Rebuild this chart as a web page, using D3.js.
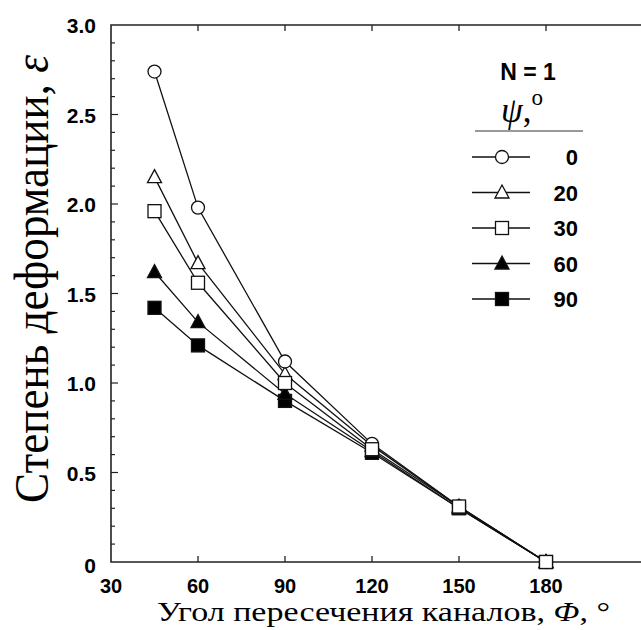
<!DOCTYPE html>
<html>
<head>
<meta charset="utf-8">
<script src="https://cdn.jsdelivr.net/npm/d3@7"></script>
<style>
  body { margin: 0; background: #fff; }
  svg { display: block; }
</style>
</head>
<body>
<script>

var angles = [45, 60, 90, 120, 150, 180]
var psiLabels = ['0', '20', '30', '60', '90']
var psi0 = [2.74, 1.98, 1.12, 0.66, 0.31, 0]
var psi20 = [2.15, 1.67, 1.05, 0.65, 0.31, 0]
var psi30 = [1.96, 1.56, 1.00, 0.63, 0.31, 0]
var psi60 = [1.62, 1.34, 0.94, 0.62, 0.30, 0]
var psi90 = [1.42, 1.21, 0.90, 0.61, 0.30, 0]
var xTicks = [30, 60, 90, 120, 150, 180]
var yTicks = [0, 0.5, 1.0, 1.5, 2.0, 2.5, 3.0]
var yTickLabels = ['0', '0.5', '1.0', '1.5', '2.0', '2.5', '3.0']

var series = [
  {label: psiLabels[0], values: psi0, shape: 'circle', fill: '#fff'},
  {label: psiLabels[1], values: psi20, shape: 'triangle', fill: '#fff'},
  {label: psiLabels[2], values: psi30, shape: 'square', fill: '#fff'},
  {label: psiLabels[3], values: psi60, shape: 'triangle', fill: '#000'},
  {label: psiLabels[4], values: psi90, shape: 'square', fill: '#000'}
]

var svg = d3.select('body').append('svg')
  .attr('width', 641)
  .attr('height', 630)

var x = d3.scaleLinear().domain([30, 180]).range([111, 546])
var y = d3.scaleLinear().domain([0, 3]).range([562, 25])

var right = 660
var sans = 'Liberation Sans, Arial, sans-serif'
var serif = 'Liberation Serif, Times New Roman, serif'

// frame
svg.append('path')
  .attr('d', 'M' + right + ',' + y(3) + 'H' + x(30) + 'V' + y(0) + 'H' + right)
  .attr('fill', 'none')
  .attr('stroke', '#222')
  .attr('stroke-width', 1.6)

// x ticks, bottom and top, pointing inward
var gx = svg.append('g')
gx.selectAll('.tb').data(xTicks.slice(1)).enter().append('line')
  .attr('x1', function(d) { return x(d) }).attr('x2', function(d) { return x(d) })
  .attr('y1', y(0)).attr('y2', y(0) - 6)
  .attr('stroke', '#222').attr('stroke-width', 1.3)
gx.selectAll('.tt').data(xTicks.slice(1)).enter().append('line')
  .attr('x1', function(d) { return x(d) }).attr('x2', function(d) { return x(d) })
  .attr('y1', y(3)).attr('y2', y(3) + 6)
  .attr('stroke', '#222').attr('stroke-width', 1.3)
gx.selectAll('text').data(xTicks).enter().append('text')
  .attr('x', function(d) { return x(d) })
  .attr('y', 593)
  .attr('text-anchor', 'middle')
  .style('font-family', sans)
  .style('font-weight', 'bold')
  .style('font-size', '20px')
  .text(function(d) { return d })

// y ticks: major every 0.5, minor every 0.1
var minor = d3.range(1, 30).map(function(i) { return i / 10 })
var gy = svg.append('g')
gy.selectAll('line').data(minor).enter().append('line')
  .attr('x1', x(30)).attr('x2', function(d) {
    return x(30) + (Math.abs(d * 2 - Math.round(d * 2)) < 1e-6 ? 7 : 4)
  })
  .attr('y1', function(d) { return y(d) }).attr('y2', function(d) { return y(d) })
  .attr('stroke', '#222').attr('stroke-width', 1.2)
gy.selectAll('text').data(yTicks).enter().append('text')
  .attr('x', 96)
  .attr('y', function(d, i) { return y(d) + (i == 0 ? 11 : 8) })
  .attr('text-anchor', 'end')
  .style('font-family', sans)
  .style('font-weight', 'bold')
  .style('font-size', '21px')
  .text(function(d, i) { return yTickLabels[i] })

// markers
function marker(sel, shape, fill) {
  if (shape == 'circle') {
    sel.append('circle').attr('r', 6.5)
  } else if (shape == 'square') {
    sel.append('rect').attr('x', -6.5).attr('y', -6.5).attr('width', 13).attr('height', 13)
  } else {
    sel.append('path').attr('d', 'M0,-7.5L7,5.5L-7,5.5Z')
  }
  sel.selectAll('*').attr('fill', fill).attr('stroke', '#111').attr('stroke-width', 1.3)
}

var line = d3.line()
  .x(function(d, i) { return x(angles[i]) })
  .y(function(d) { return y(d) })

var order = [4, 3, 1, 0, 2]
order.forEach(function(k) {
  var s = series[k]
  svg.append('path')
    .attr('d', line(s.values))
    .attr('fill', 'none')
    .attr('stroke', '#111')
    .attr('stroke-width', 1.3)
})
order.forEach(function(k) {
  var s = series[k]
  s.values.forEach(function(v, i) {
    var g = svg.append('g').attr('transform', 'translate(' + x(angles[i]) + ',' + y(v) + ')')
    marker(g, s.shape, s.fill)
  })
})

// legend
var lg = svg.append('g')
lg.append('text')
  .attr('x', 528).attr('y', 80)
  .attr('text-anchor', 'middle')
  .style('font-family', sans)
  .style('font-weight', 'bold')
  .style('font-size', '23px')
  .text('N = 1')
var psiT = lg.append('text')
  .attr('x', 522).attr('y', 122)
  .attr('text-anchor', 'middle')
  .style('font-family', serif)
  .style('font-size', '35px')
psiT.append('tspan').style('font-style', 'italic').text('ψ')
psiT.append('tspan').text(',')
psiT.append('tspan').attr('dy', -17).style('font-size', '23px').text('o')
lg.append('line')
  .attr('x1', 475).attr('x2', 583).attr('y1', 131).attr('y2', 131)
  .attr('stroke', '#777').attr('stroke-width', 1.5)

series.forEach(function(s, i) {
  var ly = 157 + i * 35.5
  lg.append('line')
    .attr('x1', 472).attr('x2', 530).attr('y1', ly).attr('y2', ly)
    .attr('stroke', '#111').attr('stroke-width', 1.3)
  var g = lg.append('g').attr('transform', 'translate(502,' + ly + ')')
  marker(g, s.shape, s.fill)
  lg.append('text')
    .attr('x', 578).attr('y', ly + 8)
    .attr('text-anchor', 'end')
    .style('font-family', sans)
    .style('font-weight', 'bold')
    .style('font-size', '22px')
    .text(s.label)
})

// axis titles
var xt = svg.append('text')
  .attr('x', 157).attr('y', 621)
  .attr('textLength', 453)
  .attr('lengthAdjust', 'spacingAndGlyphs')
  .style('font-family', serif)
  .style('font-size', '27px')
xt.append('tspan').text('Угол пересечения каналов, ')
xt.append('tspan').style('font-style', 'italic').text('Φ')
xt.append('tspan').text(', °')

var yt = svg.append('text')
  .attr('transform', 'translate(48,503) rotate(-90)')
  .attr('textLength', 448)
  .attr('lengthAdjust', 'spacingAndGlyphs')
  .style('font-family', serif)
  .style('font-size', '48px')
yt.append('tspan').text('Степень деформации, ')
yt.append('tspan').style('font-style', 'italic').text('ε')

</script>
</body>
</html>
